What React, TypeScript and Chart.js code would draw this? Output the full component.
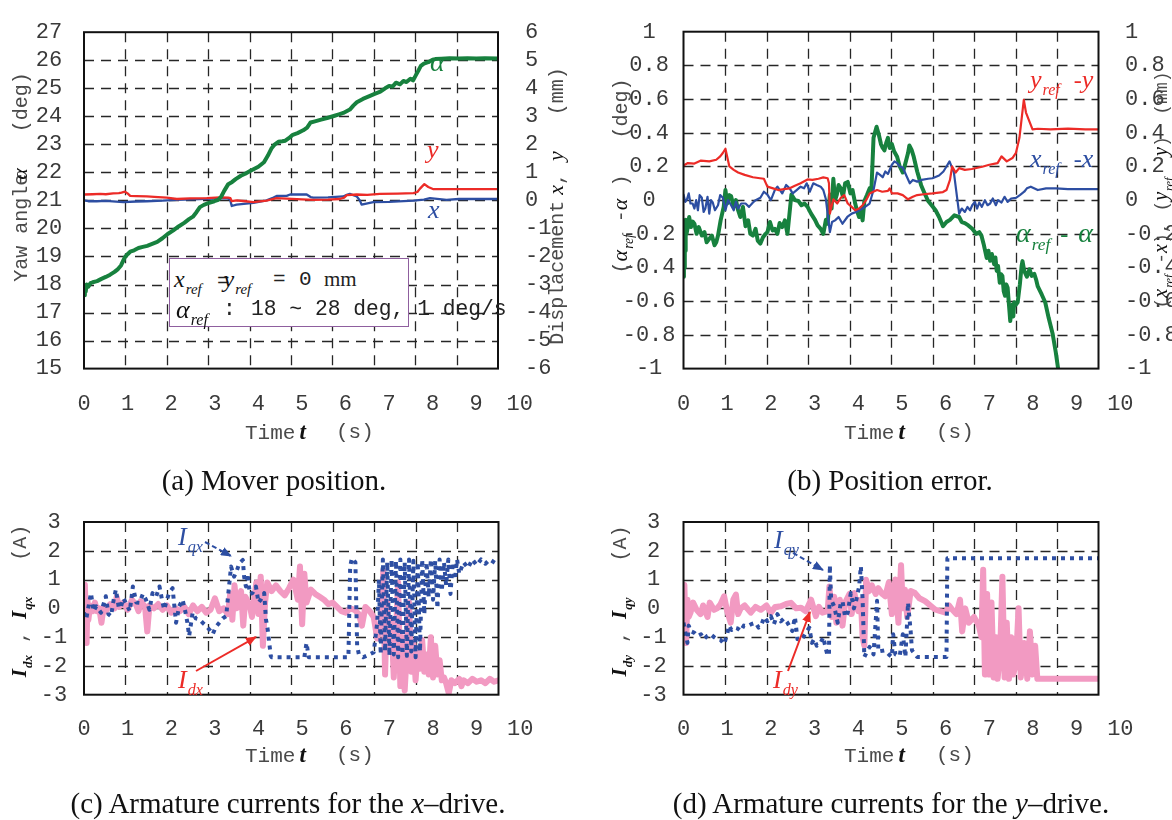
import React, { useEffect, useRef } from "react";
import { Chart, registerables } from "chart.js";
Chart.register(...registerables);

// ---------------- DATA ----------------
const X_TICK_LABELS = [0, 1, 2, 3, 4, 5, 6, 7, 8, 9, 10];
const X_GRID = [0, 0.95, 1.9, 2.85, 3.8, 4.75, 5.7, 6.65, 7.6, 8.55, 9.5];

// (a) Mover position
const A_ALPHA_T = [
  0, 0.02, 0.04, 0.06, 0.1, 0.15, 0.2, 0.3, 0.4, 0.5,
  0.6, 0.7, 0.78, 0.85, 0.9, 0.94, 1.0, 1.06, 1.15, 1.25,
  1.35, 1.45, 1.55, 1.68, 1.8, 1.92, 2.05, 2.17, 2.3, 2.41,
  2.5, 2.58, 2.66, 2.75, 2.85, 2.99, 3.08, 3.15, 3.22, 3.31,
  3.4, 3.48, 3.6, 3.7, 3.8, 3.9, 4.0, 4.13, 4.22, 4.3,
  4.38, 4.46, 4.55, 4.62, 4.7, 4.79, 4.9, 5.03, 5.12, 5.2,
  5.3, 5.44, 5.6, 5.75, 5.85, 5.95, 6.1, 6.18, 6.26, 6.4,
  6.55, 6.67, 6.8, 6.91, 7.0, 7.08, 7.16, 7.25, 7.33, 7.4,
  7.49, 7.55, 7.61, 7.67, 7.73, 7.8, 7.9, 8.0, 8.06, 8.2,
  8.39, 8.6, 8.8, 9.0, 9.2, 9.5,
];
const A_ALPHA_V = [
  17.62, 17.95, 17.75, 18.0, 17.92, 18.05, 18.08, 18.12, 18.2, 18.27,
  18.35, 18.45, 18.55, 18.68, 18.85, 18.98, 19.08, 19.17, 19.22, 19.3,
  19.34, 19.38, 19.44, 19.52, 19.65, 19.8, 19.93, 20.07, 20.2, 20.33,
  20.42, 20.58, 20.76, 20.84, 20.9, 20.97, 21.02, 21.14, 21.35, 21.58,
  21.66, 21.76, 21.88, 21.95, 22.04, 22.12, 22.2, 22.36, 22.6, 22.85,
  23.0, 23.09, 23.11, 23.13, 23.22, 23.34, 23.4, 23.5, 23.6, 23.78,
  23.82, 23.88, 23.95, 24.02, 24.07, 24.12, 24.24, 24.38, 24.5, 24.62,
  24.72, 24.8, 24.88, 25.0, 25.08, 25.06, 25.2, 25.14, 25.26, 25.22,
  25.34, 25.28, 25.45, 25.62, 25.8, 25.88, 25.93, 26.02, 26.04, 26.05,
  26.07, 26.06, 26.07, 26.06, 26.07, 26.06,
];
const A_Y_T = [
  0, 0.2, 0.37, 0.5, 0.67, 0.8, 0.86, 0.94, 1.0, 1.06,
  1.2, 1.44, 1.7, 1.9, 2.13, 2.43, 2.82, 3.12, 3.31, 3.36,
  3.39, 3.5, 3.7, 3.89, 4.19, 4.42, 4.65, 5.0, 5.26, 5.6,
  5.87, 5.97, 6.03, 6.26, 6.5, 6.79, 7.2, 7.56, 7.65, 7.71,
  7.81, 7.9, 8.02, 8.5, 9.0, 9.5,
];
const A_Y_V = [
  0.21, 0.22, 0.23, 0.22, 0.25, 0.26, 0.28, 0.31, 0.25, 0.16,
  0.15, 0.14, 0.12, 0.1, 0.05, 0.07, 0.08, 0.11, 0.1, 0.08,
  -0.03, 0.0, -0.03, -0.06, -0.01, 0.08, 0.06, 0.04, 0.02, 0.03,
  0.05, 0.1, 0.19, 0.21, 0.2, 0.23, 0.24, 0.26, 0.3, 0.42,
  0.58, 0.48, 0.4, 0.4, 0.4, 0.4,
];
const A_X_T = [
  0, 0.1, 0.29, 0.5, 0.9, 1.2, 1.44, 1.8, 2.13, 2.5,
  2.97, 3.27, 3.35, 3.39, 3.5, 3.89, 4.19, 4.35, 4.42, 4.65,
  4.73, 5.11, 5.2, 5.26, 5.6, 5.95, 6.03, 6.1, 6.26, 6.33,
  6.37, 6.64, 7.0, 7.56, 7.8, 7.94, 8.32, 8.6, 9.0, 9.5,
];
const A_X_V = [
  0.0, -0.03, -0.03, -0.02, -0.06, -0.04, -0.03, -0.01, 0.02, 0.04,
  0.06, 0.08, 0.04, -0.2, -0.15, -0.09, 0.0, 0.1, 0.16, 0.16,
  0.21, 0.21, 0.12, 0.1, 0.11, 0.14, 0.2, 0.23, 0.14, 0.0,
  -0.15, -0.06, -0.05, -0.01, 0.03, 0.08, 0.02, 0.05, 0.05, 0.05,
];

// (b) Position error
const B_Y_T = [
  0, 0.1, 0.25, 0.4, 0.59, 0.75, 0.84, 0.9, 0.96, 1.05,
  1.15, 1.25, 1.4, 1.59, 1.75, 1.84, 1.92, 2.05, 2.17, 2.3,
  2.43, 2.55, 2.68, 2.84, 2.95, 3.09, 3.2, 3.3, 3.33, 3.35,
  3.43, 3.52, 3.6, 3.68, 3.76, 3.85, 3.93, 4.02, 4.1, 4.18,
  4.26, 4.43, 4.55, 4.68, 4.72, 4.77, 4.9, 5.02, 5.14, 5.25,
  5.35, 5.5, 5.7, 5.94, 6.02, 6.1, 6.15, 6.23, 6.31, 6.44,
  6.6, 6.86, 7.0, 7.19, 7.28, 7.4, 7.53, 7.61, 7.69, 7.79,
  7.84, 7.9, 7.99, 8.11, 8.4, 8.8, 9.2, 9.5,
];
const B_Y_V = [
  0.206, 0.22, 0.217, 0.235, 0.23, 0.24, 0.26, 0.28, 0.305, 0.2,
  0.18, 0.164, 0.15, 0.136, 0.13, 0.127, 0.08, 0.07, 0.06, 0.065,
  0.07, 0.085, 0.1, 0.123, 0.12, 0.127, 0.135, 0.13, 0.1, -0.08,
  0.005, -0.02, 0.014, 0.03, -0.02, -0.04, -0.06, -0.05, -0.03, 0.0,
  0.04, 0.06, 0.05, 0.055, 0.07, 0.04, 0.04, 0.03, 0.005, 0.02,
  0.03, 0.035, 0.04, 0.048, 0.06, 0.12, 0.2, 0.164, 0.19, 0.18,
  0.185, 0.2, 0.21, 0.22, 0.26, 0.23, 0.25, 0.28, 0.37, 0.596,
  0.52, 0.48, 0.42, 0.424, 0.42, 0.425, 0.42, 0.42,
];
const B_X_T = [
  0, 0.04, 0.08, 0.12, 0.16, 0.21, 0.25, 0.29, 0.33, 0.37,
  0.42, 0.46, 0.5, 0.55, 0.59, 0.63, 0.67, 0.72, 0.79, 0.84,
  0.9, 0.96, 1.02, 1.09, 1.15, 1.2, 1.25, 1.32, 1.42, 1.5,
  1.59, 1.65, 1.76, 1.84, 1.92, 2.0, 2.09, 2.15, 2.26, 2.35,
  2.43, 2.5, 2.59, 2.68, 2.76, 2.82, 2.89, 2.97, 3.05, 3.14,
  3.2, 3.26, 3.35, 3.4, 3.47, 3.55, 3.64, 3.75, 3.85, 3.95,
  4.1, 4.26, 4.35, 4.43, 4.5, 4.56, 4.62, 4.68, 4.77, 4.83,
  4.89, 4.95, 5.02, 5.1, 5.18, 5.25, 5.35, 5.45, 5.6, 5.7,
  5.85, 5.95, 6.02, 6.09, 6.19, 6.31, 6.37, 6.44, 6.5, 6.56,
  6.61, 6.67, 6.72, 6.77, 6.83, 6.9, 6.96, 7.02, 7.08, 7.15,
  7.2, 7.28, 7.35, 7.42, 7.5, 7.61, 7.7, 7.8, 7.86, 7.95,
  8.11, 8.3, 8.53, 8.8, 9.0, 9.5,
];
const B_X_V = [
  0.033, -0.01, 0.005, 0.04, -0.02, -0.02, -0.05, 0.0, -0.06, 0.03,
  0.014, -0.07, -0.05, 0.02, -0.08, 0.0, -0.014, -0.06, -0.03, 0.03,
  0.014, -0.06, 0.0, -0.03, -0.06, -0.01, -0.05, -0.02, -0.02, -0.04,
  -0.014, 0.0, 0.014, 0.05, 0.033, 0.0, 0.06, 0.08, 0.04, 0.09,
  0.07, 0.04, 0.06, 0.08, 0.07, 0.1, 0.05, 0.1, 0.09, 0.08,
  0.06, 0.005, -0.19, -0.13, -0.12, -0.1, -0.14, -0.1, -0.08, -0.07,
  -0.05, -0.02, 0.06, 0.164, 0.15, 0.136, 0.17, 0.155, 0.21, 0.23,
  0.22, 0.2, 0.194, 0.146, 0.1, 0.12, 0.11, 0.12, 0.127, 0.13,
  0.146, 0.17, 0.2, 0.23, 0.164, -0.08, -0.05, -0.07, -0.04, -0.06,
  -0.03, -0.01, -0.05, -0.014, -0.04, 0.0, -0.03, -0.02, 0.01, -0.03,
  0.0, -0.014, 0.02, -0.01, 0.01, 0.014, 0.03, 0.05, 0.07, 0.08,
  0.06, 0.07, 0.07, 0.065, 0.065, 0.065,
];
const B_ALPHA_T = [
  0, 0.01, 0.02, 0.03, 0.04, 0.05, 0.07, 0.1, 0.13, 0.17,
  0.21, 0.25, 0.3, 0.35, 0.42, 0.48, 0.53, 0.59, 0.65, 0.71,
  0.75, 0.79, 0.85, 0.92, 0.96, 1.0, 1.05, 1.09, 1.15, 1.2,
  1.25, 1.3, 1.36, 1.42, 1.48, 1.53, 1.59, 1.65, 1.7, 1.76,
  1.82, 1.88, 1.92, 1.98, 2.04, 2.09, 2.15, 2.2, 2.26, 2.32,
  2.38, 2.47, 2.55, 2.63, 2.7, 2.77, 2.84, 2.92, 3.01, 3.07,
  3.14, 3.2, 3.26, 3.3, 3.35, 3.39, 3.43, 3.47, 3.51, 3.55,
  3.6, 3.65, 3.7, 3.76, 3.82, 3.87, 3.93, 3.98, 4.02, 4.06,
  4.1, 4.14, 4.2, 4.26, 4.3, 4.35, 4.42, 4.47, 4.52, 4.56,
  4.6, 4.64, 4.68, 4.72, 4.77, 4.82, 4.89, 4.95, 5.02, 5.06,
  5.1, 5.14, 5.17, 5.22, 5.27, 5.35, 5.44, 5.52, 5.6, 5.68,
  5.77, 5.85, 5.94, 6.02, 6.1, 6.2, 6.31, 6.37, 6.44, 6.52,
  6.61, 6.7, 6.77, 6.82, 6.87, 6.94, 6.98, 7.02, 7.06, 7.11,
  7.14, 7.17, 7.2, 7.24, 7.27, 7.3, 7.33, 7.36, 7.39, 7.42,
  7.45, 7.48, 7.51, 7.53, 7.55, 7.57, 7.61, 7.65, 7.7, 7.74,
  7.76, 7.8, 7.86, 7.92, 7.97, 8.03, 8.07, 8.11, 8.2, 8.28,
  8.36, 8.45, 8.52, 8.57, 8.7,
];
const B_ALPHA_V = [
  -0.455, -0.2, -0.4, -0.23, -0.3, -0.117, -0.2, -0.155, -0.1, -0.16,
  -0.127, -0.14, -0.2, -0.16, -0.21, -0.19, -0.25, -0.23, -0.21, -0.268,
  -0.25, -0.21, -0.12, -0.04, 0.06, -0.02, 0.03, 0.023, -0.04, 0.0,
  -0.06, -0.1, -0.04, -0.155, -0.12, -0.2, -0.21, -0.17, -0.24, -0.258,
  -0.22, -0.2, -0.19, -0.13, -0.18, -0.17, -0.2, -0.136, -0.16, -0.12,
  -0.2, 0.033, 0.0, -0.005, -0.03, -0.02, -0.04, -0.08, -0.117, -0.15,
  -0.17, -0.2, -0.117, -0.14, 0.033, -0.05, 0.127, 0.0, 0.033, 0.09,
  0.07, 0.02, 0.1, 0.108, 0.04, 0.06, -0.02, -0.07, -0.1, -0.05,
  -0.12, -0.005, 0.03, 0.07, 0.05, 0.37, 0.436, 0.39, 0.333, 0.31,
  0.296, 0.34, 0.37, 0.31, 0.333, 0.29, 0.258, 0.2, 0.164, 0.2,
  0.24, 0.28, 0.324, 0.3, 0.258, 0.17, 0.089, 0.04, -0.005, -0.03,
  -0.06, -0.1, -0.155, -0.13, -0.117, -0.09, -0.1, -0.13, -0.136, -0.15,
  -0.17, -0.2, -0.19, -0.21, -0.26, -0.343, -0.3, -0.36, -0.32, -0.38,
  -0.34, -0.42, -0.39, -0.49, -0.44, -0.45, -0.54, -0.568, -0.5, -0.52,
  -0.62, -0.718, -0.64, -0.62, -0.69, -0.606, -0.62, -0.606, -0.5, -0.39,
  -0.362, -0.42, -0.455, -0.41, -0.45, -0.437, -0.47, -0.512, -0.56, -0.606,
  -0.7, -0.793, -0.9, -0.99, -1.2,
];

// (c) x-drive currents
const C_ID_T = [
  0, 0.02, 0.04, 0.06, 0.08, 0.1, 0.14, 0.2, 0.25, 0.3,
  0.35, 0.4, 0.45, 0.5, 0.6, 0.7, 0.75, 0.8, 0.9, 1.0,
  1.1, 1.2, 1.25, 1.3, 1.4, 1.45, 1.5, 1.6, 1.7, 1.8,
  1.9, 2.0, 2.1, 2.2, 2.3, 2.4, 2.5, 2.6, 2.7, 2.8,
  2.9, 3.0, 3.1, 3.2, 3.3, 3.35, 3.4, 3.45, 3.5, 3.6,
  3.65, 3.7, 3.8, 3.85, 3.9, 3.95, 4.0, 4.05, 4.1, 4.15,
  4.2, 4.3, 4.4, 4.5, 4.6, 4.7, 4.8, 4.9, 4.95, 5.0,
  5.05, 5.1, 5.2, 5.3, 5.4, 5.5, 5.6, 5.7, 5.8, 5.9,
  6.0, 6.1, 6.2, 6.3, 6.37, 6.45, 6.55, 6.64, 6.72, 6.8,
  6.86, 6.9, 6.95, 7.0, 7.05, 7.1, 7.15, 7.2, 7.25, 7.3,
  7.35, 7.4, 7.45, 7.5, 7.55, 7.6, 7.65, 7.7, 7.75, 7.8,
  7.85, 7.9, 7.95, 8.0, 8.05, 8.1, 8.15, 8.2, 8.25, 8.3,
  8.36, 8.42, 8.5, 8.6, 8.65, 8.7, 8.8, 8.9, 9.0, 9.1,
  9.2, 9.3, 9.4, 9.5,
];
const C_ID_V = [
  0.6, 0.82, -0.3, -1.2, 0.3, -0.4, 0.1, -0.1, 0.2, -0.1,
  0.0, -0.5, 0.05, -0.1, 0.15, 0.0, 0.4, 0.05, 0.2, -0.05,
  0.3, 0.1, -0.1, 0.25, 0.05, -0.8, 0.1, 0.0, 0.15, -0.05,
  0.1, -0.15, 0.0, -0.1, 0.05, -0.2, 0.1, -0.1, 0.05, -0.15,
  -0.05, 0.35, -0.1, 0.0, -0.2, 0.5, -0.4, 0.8, 0.0, 0.6,
  -0.6, 0.4, 0.1, -0.3, 0.3, 0.9, -0.2, 1.1, -1.3, 0.2,
  0.9, 0.6, 0.8, 0.6, 0.45, 0.7, 1.0, 0.3, 1.45, -0.55,
  1.2, 0.2, 0.65, 0.5, 0.4, 0.3, 0.15, 0.2, 0.05, -0.1,
  -0.15, 0.0, -0.05, -0.2, -0.6, 0.05, -0.1, -0.3, -1.05, -0.6,
  1.3, -2.3, 0.2, -1.3, -0.5, -2.4, -0.8, 0.9, -2.7, -1.0,
  -2.85, -1.5, 0.2, -2.2, -1.2, -2.5, -1.4, -2.1, -1.1, -2.2,
  -1.6, -2.3, -1.0, -2.4, -1.3, -2.3, -1.8, -2.5, -2.4, -2.6,
  -2.95, -2.5, -2.6, -2.45, -2.7, -2.5, -2.6, -2.45, -2.55, -2.5,
  -2.6, -2.45, -2.55, -2.5,
];
const C_IQ_T = [
  0, 0.05, 0.16, 0.22, 0.28, 0.39, 0.5, 0.56, 0.62, 0.68,
  0.73, 0.8, 0.85, 0.9, 0.96, 1.05, 1.12, 1.2, 1.27, 1.35,
  1.42, 1.5, 1.57, 1.65, 1.73, 1.8, 1.84, 1.9, 1.95, 2.03,
  2.07, 2.11, 2.18, 2.26, 2.32, 2.37, 2.41, 2.49, 2.56, 2.64,
  2.72, 2.8, 2.88, 2.95, 3.02, 3.1, 3.18, 3.26, 3.3, 3.37,
  3.44, 3.5, 3.56, 3.64, 3.67, 3.71, 3.75, 3.8, 3.86, 3.94,
  4.0, 4.05, 4.13, 4.17, 4.21, 4.28, 4.3, 4.64, 5.05, 5.1,
  5.15, 5.5, 5.87, 6.06, 6.1, 6.14, 6.22, 6.26, 6.3, 6.4,
  6.64, 6.72, 6.76, 6.8, 6.85, 6.9, 6.95, 7.0, 7.05, 7.1,
  7.15, 7.2, 7.25, 7.3, 7.35, 7.4, 7.45, 7.5, 7.55, 7.6,
  7.65, 7.7, 7.75, 7.8, 7.85, 7.9, 7.95, 8.0, 8.05, 8.1,
  8.15, 8.2, 8.25, 8.3, 8.35, 8.4, 8.45, 8.5, 8.55, 8.6,
  8.7, 8.8, 8.9, 9.0, 9.1, 9.2, 9.3, 9.4, 9.5,
];
const C_IQ_V = [
  -0.15, -0.38, 0.53, -0.1, 0.07, -0.15, 0.42, -0.2, -0.27, 0.3,
  0.65, 0.0, 0.07, 0.35, 0.19, -0.1, 0.76, 0.2, 0.19, 0.5,
  0.3, -0.05, 0.53, 0.4, 0.76, 0.2, -0.04, 0.3, 0.53, 0.7,
  0.1, -0.5, 0.07, 0.3, -0.1, -0.5, -0.96, -0.15, -0.35, -0.38,
  -0.5, -0.61, -0.75, -0.9, -0.65, -0.5, -0.35, -0.27, 0.4, 1.45,
  1.1, 1.3, 1.57, 1.68, 1.1, 0.76, 1.2, 0.5, 0.53, 0.76,
  0.2, 0.3, 0.53, -0.38, -0.73, -1.65, -1.7, -1.7, -1.7, -1.2,
  -1.7, -1.7, -1.7, -1.7, 1.45, 1.74, 1.6, -1.3, -1.6, -1.7,
  -1.53, -0.5, 1.0, -1.6, 1.7, -1.5, 1.6, -1.65, 1.7, -1.6,
  1.65, -1.7, 1.7, -1.6, 1.6, -1.65, 1.7, -1.5, 1.65, -1.7,
  1.6, -1.5, 1.7, -0.2, 1.6, 0.4, 1.7, 0.3, 1.65, 0.0,
  1.7, 0.6, 1.6, 0.8, 1.7, 0.5, 1.6, 1.0, 1.7, 1.2,
  1.6, 1.4, 1.7, 1.5, 1.7, 1.55, 1.7, 1.6, 1.5,
];

// (d) y-drive currents
const D_ID_T = [
  0, 0.02, 0.04, 0.06, 0.09, 0.12, 0.16, 0.22, 0.3, 0.39,
  0.45, 0.55, 0.6, 0.7, 0.77, 0.85, 0.93, 1.0, 1.08, 1.14,
  1.2, 1.25, 1.31, 1.4, 1.54, 1.65, 1.77, 1.9, 2.0, 2.1,
  2.23, 2.35, 2.46, 2.58, 2.69, 2.8, 2.92, 3.03, 3.1, 3.18,
  3.3, 3.34, 3.4, 3.45, 3.5, 3.58, 3.64, 3.7, 3.8, 3.85,
  3.91, 4.0, 4.06, 4.1, 4.14, 4.18, 4.25, 4.31, 4.4, 4.46,
  4.55, 4.62, 4.7, 4.77, 4.85, 4.92, 4.98, 5.02, 5.07, 5.12,
  5.2, 5.3, 5.4, 5.53, 5.65, 5.76, 5.88, 6.0, 6.08, 6.15,
  6.25, 6.33, 6.38, 6.45, 6.53, 6.65, 6.76, 6.82, 6.86, 6.9,
  6.95, 7.0, 7.05, 7.1, 7.15, 7.19, 7.25, 7.3, 7.35, 7.4,
  7.45, 7.5, 7.55, 7.61, 7.67, 7.72, 7.8, 7.87, 7.93, 7.99,
  8.05, 8.1, 8.2, 9.5,
];
const D_ID_V = [
  0.6, 0.82, -0.4, -1.2, 0.3, -0.3, -0.15, 0.2, -0.05, -0.2,
  0.1, -0.3, 0.2, -0.05, 0.0, 0.15, 0.42, -0.1, -0.5, 0.3,
  0.48, -0.2, 0.0, 0.1, -0.15, 0.05, -0.05, 0.1, -0.15, 0.05,
  0.07, 0.15, 0.19, 0.0, 0.02, -0.1, 0.3, -0.27, 0.05, -0.15,
  -0.1, 0.76, -0.3, 0.4, -0.5, 0.3, -0.6, 0.2, 0.5, -0.2,
  0.53, -0.1, 0.3, -1.0, -1.3, 0.99, 0.6, 0.8, 0.5, 0.7,
  0.5, 0.42, 0.9, -0.2, 1.0, -0.5, 1.5, 0.0, 0.65, -0.3,
  0.6, 0.53, 0.35, 0.25, 0.1, -0.04, -0.1, -0.15, 0.1, -0.04,
  -0.2, 0.3, -0.8, 0.0, -0.5, -0.3, -0.6, -1.0, 1.34, -2.3,
  0.5, -2.3, 0.2, -2.4, -1.0, -2.45, -1.5, 1.1, -2.4, -0.5,
  -2.45, -1.0, -2.3, -1.88, 0.0, -2.4, -1.2, -2.45, -0.8, -2.3,
  -1.3, -2.45, -2.45, -2.45,
];
const D_IQ_T = [
  0, 0.09, 0.12, 0.16, 0.25, 0.32, 0.4, 0.47, 0.55, 0.62,
  0.7, 0.77, 0.85, 0.93, 1.0, 1.04, 1.1, 1.16, 1.24, 1.31,
  1.38, 1.46, 1.55, 1.65, 1.72, 1.77, 1.85, 1.92, 2.0, 2.07,
  2.15, 2.23, 2.3, 2.38, 2.49, 2.55, 2.61, 2.7, 2.8, 2.88,
  2.94, 2.99, 3.05, 3.14, 3.2, 3.26, 3.3, 3.33, 3.35, 3.38,
  3.45, 3.53, 3.6, 3.64, 3.7, 3.76, 3.83, 3.9, 3.95, 4.02,
  4.06, 4.1, 4.14, 4.2, 4.26, 4.35, 4.43, 4.46, 4.6, 4.7,
  4.77, 4.8, 4.85, 4.95, 5.02, 5.08, 5.14, 5.2, 5.23, 5.3,
  5.35, 5.7, 6.02, 6.04, 9.5,
];
const D_IQ_V = [
  -0.5, -1.2, -0.6, -0.79, -0.85, -0.96, -0.9, -1.07, -0.95, -0.9,
  -1.0, -1.07, -1.1, -1.24, -0.9, -0.6, -0.75, -0.67, -0.7, -0.79,
  -0.6, -0.62, -0.55, -0.5, -0.67, -0.62, -0.3, -0.45, -0.27, -0.55,
  -0.2, -0.45, -0.35, -0.5, -0.79, -0.3, -1.07, -1.1, -0.85, -0.67,
  -1.2, -1.07, -1.3, -1.19, -1.0, -1.42, -1.65, -1.6, 1.5, 0.3,
  0.07, -0.5, 0.2, 0.25, -0.3, -0.15, 0.53, 0.0, 0.25, 0.76,
  1.46, 0.3, -1.69, -1.5, -1.34, -1.6, 0.26, -1.5, -1.46, -1.6,
  -1.69, -0.9, -1.6, -1.65, -0.9, -1.69, 0.2, -0.8, -1.46, -1.6,
  -1.69, -1.69, -1.69, 1.74, 1.74,
];

// ---------------- STYLE ----------------
const GREEN = "#17813e";
const RED = "#ec2b27";
const BLUE = "#2d4ea2";
const PINK = "#f29ac2";
const TICK = "#3a3a3a";
const TITLE = "#4a4a4a";
const MONO = "'Liberation Mono', 'DejaVu Sans Mono', monospace";
const SERIF = "'Liberation Serif', 'DejaVu Serif', serif";

type Geo = { cl: number; ct: number; cw: number; ch: number; al: number; at: number; ar: number; ab: number };
const GEO_A: Geo = { cl: 0, ct: 0, cw: 580, ch: 420, al: 84, at: 15.6, ar: 498, ab: 368.6 };
const GEO_B: Geo = { cl: 590, ct: 0, cw: 582, ch: 420, al: 683.5, at: 15.6, ar: 1098.5, ab: 368.6 };
const GEO_C: Geo = { cl: 0, ct: 500, cw: 580, ch: 250, al: 84, at: 520.3, ar: 498.5, ab: 694.7 };
const GEO_D: Geo = { cl: 590, ct: 500, cw: 582, ch: 250, al: 683.5, at: 520.3, ar: 1098.5, ab: 694.7 };

const pts = (T: number[], V: number[]) => T.map((t, i) => ({ x: t, y: V[i] }));

const gridFramePlugin = {
  id: "gridFrame",
  beforeDatasetsDraw(chart: any) {
    const { ctx, chartArea: a, scales } = chart;
    ctx.save();
    ctx.strokeStyle = "#262626";
    ctx.lineWidth = 1.3;
    ctx.setLineDash([10, 7]);
    ctx.beginPath();
    for (const v of X_GRID.slice(1, -1)) {
      const px = Math.round(scales.x.getPixelForValue(v)) + 0.5;
      ctx.moveTo(px, a.top);
      ctx.lineTo(px, a.bottom);
    }
    const ys = scales.y;
    for (const t of ys.ticks) {
      if (Math.abs(t.value - ys.min) < 1e-6 || Math.abs(t.value - ys.max) < 1e-6) continue;
      const py = Math.round(ys.getPixelForValue(t.value)) + 0.5;
      ctx.moveTo(a.left, py);
      ctx.lineTo(a.right, py);
    }
    ctx.stroke();
    ctx.restore();
  },
  afterDatasetsDraw(chart: any) {
    const { ctx, chartArea: a } = chart;
    ctx.save();
    ctx.strokeStyle = "#111";
    ctx.lineWidth = 2;
    ctx.setLineDash([]);
    ctx.strokeRect(a.left, a.top, a.right - a.left, a.bottom - a.top);
    ctx.restore();
  },
};

type AxisSpec = { min: number; max: number; step: number; padding: number; show: boolean; dec: number };

function makeConfig(g: Geo, yl: AxisSpec, yr: AxisSpec, xPad: number, datasets: any[]) {
  const fmt = (dec: number) => (v: any) => {
    const n = Number(v);
    const r = Math.round(n * Math.pow(10, dec)) / Math.pow(10, dec);
    return String(r === 0 ? 0 : r);
  };
  const tickFont = { family: MONO, size: 22 };
  return {
    type: "line",
    data: { datasets },
    options: {
      animation: false,
      responsive: false,
      devicePixelRatio: 1,
      layout: { padding: { top: g.at - g.ct, left: 0, right: 0, bottom: 0 } },
      elements: { point: { radius: 0 }, line: { tension: 0, borderJoinStyle: "round" } },
      plugins: { legend: { display: false }, tooltip: { enabled: false }, title: { display: false } },
      scales: {
        x: {
          type: "linear", min: 0, max: 9.5, position: "bottom", weight: 0,
          grid: { display: false }, border: { display: false }, ticks: { display: false },
          afterFit: (s: any) => { s.height = 0; },
        },
        xl: {
          type: "linear", axis: "x", min: 0, max: 9.5, position: "bottom", weight: 1,
          grid: { display: false, drawTicks: false }, border: { display: false },
          ticks: { autoSkip: false, maxRotation: 0, minRotation: 0, padding: xPad, font: tickFont, color: TICK },
          afterBuildTicks: (s: any) => { s.ticks = X_TICK_LABELS.map((v) => ({ value: v })); },
          afterFit: (s: any) => { s.height = g.ct + g.ch - g.ab; },
        },
        y: {
          type: "linear", position: "left", min: yl.min, max: yl.max,
          grid: { display: false }, border: { display: false },
          ticks: { autoSkip: false, stepSize: yl.step, padding: yl.padding, crossAlign: "center", font: tickFont, color: TICK, callback: fmt(yl.dec) },
          afterFit: (s: any) => { s.width = g.al - g.cl; },
        },
        y2: {
          type: "linear", axis: "y", position: "right", min: yr.min, max: yr.max,
          grid: { display: false }, border: { display: false },
          ticks: { autoSkip: false, display: yr.show, stepSize: yr.step, padding: yr.padding, crossAlign: "near", font: tickFont, color: TICK, callback: fmt(yr.dec) },
          afterFit: (s: any) => { s.width = g.cl + g.cw - g.ar; },
        },
      },
    },
    plugins: [gridFramePlugin],
  };
}

const line = (data: any, color: string, width: number, order: number, yAxisID = "y", dash?: number[]) => ({
  data, borderColor: color, backgroundColor: color, borderWidth: width, order, yAxisID,
  pointRadius: 0, fill: false, borderDash: dash || [], borderCapStyle: dash ? "butt" : "round",
});

const cfgA = () =>
  makeConfig(
    GEO_A,
    { min: 15, max: 27, step: 1, padding: 13.8, show: true, dec: 0 },
    { min: -6, max: 6, step: 1, padding: 19, show: true, dec: 0 },
    22,
    [
      line(pts(A_ALPHA_T, A_ALPHA_V), GREEN, 4, 0, "y"),
      line(pts(A_Y_T, A_Y_V), RED, 2.3, 1, "y2"),
      line(pts(A_X_T, A_X_V), BLUE, 2.3, 2, "y2"),
    ]
  );
const cfgB = () =>
  makeConfig(
    GEO_B,
    { min: -1, max: 1, step: 0.2, padding: 0, show: true, dec: 1 },
    { min: -1, max: 1, step: 0.2, padding: 18.5, show: true, dec: 1 },
    22,
    [
      line(pts(B_Y_T, B_Y_V), RED, 2.2, 0, "y2"),
      line(pts(B_X_T, B_X_V), BLUE, 2.2, 1, "y2"),
      line(pts(B_ALPHA_T, B_ALPHA_V), GREEN, 4, 2, "y"),
    ]
  );
const cfgC = () =>
  makeConfig(
    GEO_C,
    { min: -3, max: 3, step: 1, padding: 8.8, show: true, dec: 0 },
    { min: -3, max: 3, step: 1, padding: 10, show: false, dec: 0 },
    21,
    [
      line(pts(C_IQ_T, C_IQ_V), BLUE, 4, 0, "y", [4, 5]),
      line(pts(C_ID_T, C_ID_V), PINK, 6, 1, "y"),
    ]
  );
const cfgD = () =>
  makeConfig(
    GEO_D,
    { min: -3, max: 3, step: 1, padding: 8.8, show: true, dec: 0 },
    { min: -3, max: 3, step: 1, padding: 10, show: false, dec: 0 },
    21,
    [
      line(pts(D_IQ_T, D_IQ_V), BLUE, 4, 0, "y", [4, 5]),
      line(pts(D_ID_T, D_ID_V), PINK, 6, 1, "y"),
    ]
  );

function ChartCanvas({ geo, make }: { geo: Geo; make: () => any }) {
  const ref = useRef<HTMLCanvasElement>(null);
  useEffect(() => {
    const chart = new Chart(ref.current as HTMLCanvasElement, make());
    return () => chart.destroy();
  }, []);
  return (
    <canvas
      ref={ref}
      width={geo.cw}
      height={geo.ch}
      style={{ position: "absolute", left: geo.cl, top: geo.ct, width: geo.cw, height: geo.ch }}
    />
  );
}

// ---------------- TEXT HELPERS ----------------
function Var({ c, sub, size = 24, color, bold }: { c: string; sub?: string; size?: number; color?: string; bold?: boolean }) {
  return (
    <span style={{ fontFamily: SERIF, fontStyle: "italic", fontSize: size, color, fontWeight: bold ? "bold" : "normal" }}>
      {c}
      {sub ? (
        <span style={{ fontSize: size * 0.62, position: "relative", top: size * 0.28, marginLeft: 1 }}>{sub}</span>
      ) : null}
    </span>
  );
}

function VTitle({ x, y, children, size = 20 }: { x: number; y: number; children: any; size?: number }) {
  return (
    <div
      style={{
        position: "absolute", left: x, top: y, transform: "translate(-50%,-50%) rotate(-90deg)",
        whiteSpace: "pre", fontFamily: MONO, fontSize: size, color: TITLE, lineHeight: 1,
      }}
    >
      {children}
    </div>
  );
}

function Txt({ x, y, children, style }: { x: number; y: number; children: any; style?: any }) {
  return (
    <div style={{ position: "absolute", left: x, top: y, transform: "translateY(-50%)", whiteSpace: "pre", lineHeight: 1, ...style }}>
      {children}
    </div>
  );
}

function Caption({ x, y, children }: { x: number; y: number; children: any }) {
  return (
    <div
      style={{
        position: "absolute", left: x, top: y, transform: "translate(-50%,-50%)", whiteSpace: "nowrap",
        fontFamily: SERIF, fontSize: 29, color: "#111", lineHeight: 1,
      }}
    >
      {children}
    </div>
  );
}

function TimeTitle({ x, sx, y }: { x: number; sx: number; y: number }) {
  return (
    <>
      <Txt x={x} y={y} style={{ fontFamily: MONO, fontSize: 21, color: TITLE }}>
        Time<span style={{ fontFamily: SERIF, fontStyle: "italic", fontWeight: "bold", fontSize: 23, color: "#111", marginLeft: 4 }}>t</span>
      </Txt>
      <Txt x={sx} y={y} style={{ fontFamily: MONO, fontSize: 21, color: TITLE }}>(s)</Txt>
    </>
  );
}

export default function App() {
  return (
    <div style={{ position: "absolute", left: 0, top: 0, width: 1172, height: 820, background: "#fff", overflow: "hidden" }}>
      <ChartCanvas geo={GEO_A} make={cfgA} />
      <ChartCanvas geo={GEO_B} make={cfgB} />
      <ChartCanvas geo={GEO_C} make={cfgC} />
      <ChartCanvas geo={GEO_D} make={cfgD} />

      {/* (a) annotations */}
      <div style={{ position: "absolute", left: 168.7, top: 258, width: 240, height: 69, border: "1.5px solid #8f5f9f", background: "#fff", boxSizing: "border-box" }} />
      <Txt x={174} y={279}><Var c="x" sub="ref" size={24} color="#111" /></Txt>
      <Txt x={217} y={279} style={{ fontFamily: MONO, fontSize: 21, color: "#222" }}>
        =<span style={{ marginLeft: -6 }}><Var c="y" sub="ref" size={24} color="#111" /></span>
      </Txt>
      <Txt x={273} y={279} style={{ fontFamily: MONO, fontSize: 21, color: "#222" }}>=</Txt>
      <Txt x={299} y={279} style={{ fontFamily: MONO, fontSize: 21, color: "#222" }}>0</Txt>
      <Txt x={324} y={279} style={{ fontFamily: SERIF, fontSize: 21, color: "#222" }}>mm</Txt>
      <Txt x={176} y={310}><Var c="α" sub="ref" size={26} color="#111" /></Txt>
      <Txt x={223} y={310} style={{ fontFamily: MONO, fontSize: 21.3, color: "#222" }}>:</Txt>
      <Txt x={251} y={310} style={{ fontFamily: MONO, fontSize: 21.3, color: "#222" }}>18 ~ 28 deg, 1 deg/s</Txt>

      <Txt x={430} y={62} style={{ fontFamily: SERIF, fontStyle: "italic", fontSize: 28, color: GREEN }}>α</Txt>
      <Txt x={427} y={150} style={{ fontFamily: SERIF, fontStyle: "italic", fontSize: 26, color: RED }}>y</Txt>
      <Txt x={428} y={210} style={{ fontFamily: SERIF, fontStyle: "italic", fontSize: 26, color: BLUE }}>x</Txt>

      {/* (b) annotations */}
      <Txt x={1030} y={80} style={{ color: RED }}>
        <Var c="y" sub="ref" size={26} color={RED} />
        <span style={{ fontFamily: SERIF, fontSize: 24, marginLeft: 14 }}>-</span>
        <Var c="y" size={26} color={RED} />
      </Txt>
      <Txt x={1030} y={159} style={{ color: BLUE }}>
        <Var c="x" sub="ref" size={26} color={BLUE} />
        <span style={{ fontFamily: SERIF, fontSize: 24, marginLeft: 14 }}>-</span>
        <Var c="x" size={26} color={BLUE} />
      </Txt>
      <Txt x={1016} y={233} style={{ color: GREEN }}>
        <Var c="α" sub="ref" size={28} color={GREEN} />
        <span style={{ fontFamily: SERIF, fontSize: 24, marginLeft: 10, marginRight: 10 }}>-</span>
        <Var c="α" size={28} color={GREEN} />
      </Txt>

      {/* (c), (d) annotations */}
      <Txt x={178} y={537}><Var c="I" sub="qx" size={26} color={BLUE} /></Txt>
      <Txt x={178} y={680}><Var c="I" sub="dx" size={26} color={RED} /></Txt>
      <Txt x={774} y={540}><Var c="I" sub="qy" size={26} color={BLUE} /></Txt>
      <Txt x={773} y={680}><Var c="I" sub="dy" size={26} color={RED} /></Txt>

      <svg width={1172} height={820} style={{ position: "absolute", left: 0, top: 0, pointerEvents: "none" }}>
        <defs>
          <marker id="hb" markerWidth="11" markerHeight="9" refX="10" refY="4.5" orient="auto" markerUnits="userSpaceOnUse">
            <path d="M0,0 L11,4.5 L0,9 z" fill={BLUE} />
          </marker>
          <marker id="hr" markerWidth="11" markerHeight="9" refX="10" refY="4.5" orient="auto" markerUnits="userSpaceOnUse">
            <path d="M0,0 L11,4.5 L0,9 z" fill={RED} />
          </marker>
        </defs>
        <line x1={205} y1={542} x2={231} y2={556} stroke={BLUE} strokeWidth={2} strokeDasharray="5 3" markerEnd="url(#hb)" />
        <line x1={196} y1={671} x2={256} y2={637} stroke={RED} strokeWidth={2} markerEnd="url(#hr)" />
        <line x1={793} y1={553} x2={823} y2={570} stroke={BLUE} strokeWidth={2} strokeDasharray="5 3" markerEnd="url(#hb)" />
        <line x1={788} y1={671} x2={810} y2={612} stroke={RED} strokeWidth={2} markerEnd="url(#hr)" />
      </svg>

      {/* axis titles */}
      <VTitle x={20} y={177}>
        Yaw angle<span style={{ fontFamily: SERIF, fontStyle: "italic", fontSize: 22, color: "#111", marginLeft: -6 }}>α</span>{"   (deg)"}
      </VTitle>
      <VTitle x={556} y={206}>
        Displacement<span style={{ marginLeft: 6 }}><Var c="x" size={22} color="#111" /></span>, <Var c="y" size={22} color="#111" />{"   (mm)"}
      </VTitle>
      <VTitle x={620} y={176}>
        (<Var c="α" sub="ref" size={22} color="#111" /> -<Var c="α" size={22} color="#111" /> ){"   (deg)"}
      </VTitle>
      <VTitle x={1160} y={190} size={18}>
        (<Var c="x" sub="ref" size={20} color="#111" /> -<Var c="x" size={20} color="#111" />), (<Var c="y" sub="ref" size={20} color="#111" /> -<Var c="y" size={20} color="#111" />){"  (mm)"}
      </VTitle>
      <VTitle x={20} y={601}>
        <Var c="I" sub="dx" size={21} color="#111" bold />{" , "}<Var c="I" sub="qx" size={21} color="#111" bold />{"   (A)"}
      </VTitle>
      <VTitle x={620} y={601}>
        <Var c="I" sub="dy" size={21} color="#111" bold />{" , "}<Var c="I" sub="qy" size={21} color="#111" bold />{"   (A)"}
      </VTitle>

      <TimeTitle x={245} sx={336} y={431.6} />
      <TimeTitle x={844} sx={936} y={431.6} />
      <TimeTitle x={245} sx={336} y={754.5} />
      <TimeTitle x={844} sx={936} y={754.5} />

      <Caption x={274} y={480}>(a) Mover position.</Caption>
      <Caption x={890} y={480}>(b) Position error.</Caption>
      <Caption x={288} y={803}>
        (c) Armature currents for the <i>x</i>–drive.
      </Caption>
      <Caption x={891} y={803}>
        (d) Armature currents for the <i>y</i>–drive.
      </Caption>
    </div>
  );
}
